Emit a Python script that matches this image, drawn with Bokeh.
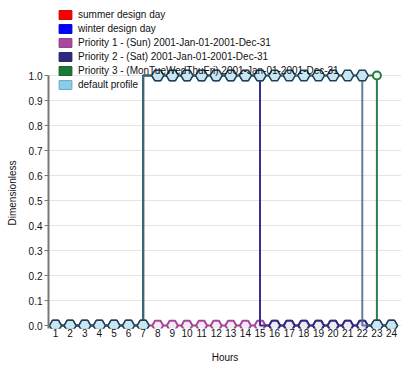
from bokeh.plotting import figure
from bokeh.models import (ColumnDataSource, Range1d, FixedTicker, NumeralTickFormatter,
                          Legend, LegendItem, Title)
from bokeh.embed import file_html
from bokeh.resources import INLINE

# ---- data ----
hours = [1, 2, 3, 4, 5, 6, 7, 8, 9, 10, 11, 12, 13, 14, 15, 16, 17, 18, 19, 20, 21, 22, 23, 24]
summer_design_day = []
winter_design_day = []
priority1_sun = [0, 0, 0, 0, 0, 0, 0, 0, 0, 0, 0, 0, 0, 0, 0, 0, 0, 0, 0, 0, 0, 0, 0, 0]
priority2_sat = [0, 0, 0, 0, 0, 0, 0, 1, 1, 1, 1, 1, 1, 1, 1, 0, 0, 0, 0, 0, 0, 0, 0, 0]
priority3_weekdays = [0, 0, 0, 0, 0, 0, 0, 1, 1, 1, 1, 1, 1, 1, 1, 1, 1, 1, 1, 1, 1, 1, 1, 0]
default_profile = [0, 0, 0, 0, 0, 0, 0, 1, 1, 1, 1, 1, 1, 1, 1, 1, 1, 1, 1, 1, 1, 1, 0, 0]

y_ticks = [0.0, 0.1, 0.2, 0.3, 0.4, 0.5, 0.6, 0.7, 0.8, 0.9, 1.0]

labels = ["summer design day", "winter design day",
          "Priority 1 - (Sun) 2001-Jan-01-2001-Dec-31",
          "Priority 2 - (Sat) 2001-Jan-01-2001-Dec-31",
          "Priority 3 - (MonTueWedThuFri) 2001-Jan-01-2001-Dec-31",
          "default profile"]
swatch_fill = ["#ff0000", "#0000ff", "#a8489f", "#2f2a80", "#197a33", "#87ceeb"]
swatch_line = ["#c00000", "#0000c0", "#8a3a83", "#232063", "#135a27", "#6aa5bd"]

x_title = "Hours"
y_title = "Dimensionless"

FONT = "Liberation Sans"
NAN = float("nan")

p = figure(width=401, height=369, output_backend="svg", toolbar_location=None,
           x_range=Range1d(0.521, 24.684), y_range=Range1d(-0.012, 1.3),
           min_border_left=48, min_border_right=0, min_border_top=0, min_border_bottom=41)
p.outline_line_color = None
p.background_fill_color = "white"

src_sun = ColumnDataSource(dict(x=hours, y=priority1_sun))
src_sat = ColumnDataSource(dict(x=hours, y=priority2_sat))
src_wk = ColumnDataSource(dict(x=hours, y=priority3_weekdays))
src_def = ColumnDataSource(dict(x=hours, y=default_profile))

p.step("x", "y", source=src_sun, mode="before", line_color="#9d4596", line_width=2)
p.scatter("x", "y", source=src_sun, marker="hex", size=11, fill_color="#f4eaf3",
          line_color="#a3479c", line_width=2)

p.step("x", "y", source=src_sat, mode="before", line_color="#37318a", line_width=2)
p.scatter("x", "y", source=src_sat, marker="hex", size=11, fill_color="#eceaf4",
          line_color="#2f2a78", line_width=2)

p.step("x", "y", source=src_wk, mode="before", line_color="#2f7d4a", line_width=2)
p.scatter("x", "y", source=src_wk, marker="circle", size=8, fill_color="#f2f8f3",
          line_color="#2a7a40", line_width=2)

p.step("x", "y", source=src_def, mode="before", line_color="#3c5f85", line_width=2,
       line_alpha=0.8)
p.scatter("x", "y", source=src_def, marker="hex", size=12, fill_color="#c8e7f3",
          line_color="#1f3f56", line_width=1.5)

# legend-only swatches (no visible data)
items = []
for lab, fc, lc in zip(labels, swatch_fill, swatch_line):
    r = p.quad(left=[NAN], right=[NAN], top=[NAN], bottom=[NAN],
               fill_color=fc, line_color=lc, line_width=1)
    items.append(LegendItem(label=lab, renderers=[r]))

legend = Legend(items=items, location=(9, 238), orientation="vertical",
                glyph_width=16, glyph_height=11, label_height=11, spacing=3,
                label_standoff=5, padding=0, margin=0,
                border_line_color=None, background_fill_alpha=0,
                label_text_font=FONT, label_text_font_size="10px",
                label_text_color="#111111")
p.add_layout(legend, "center")

# axes
p.xaxis.ticker = FixedTicker(ticks=hours)
p.xaxis.axis_line_color = None
p.xaxis.major_tick_line_color = None
p.xaxis.major_tick_out = 0
p.xaxis.major_tick_in = 0
p.xaxis.minor_tick_line_color = None
p.xaxis.major_label_standoff = 0
p.xaxis.major_label_text_font = FONT
p.xaxis.major_label_text_font_size = "10px"
p.xaxis.major_label_text_color = "#111111"
p.xaxis.axis_label = x_title
p.xaxis.axis_label_text_font = FONT
p.xaxis.axis_label_text_font_size = "10px"
p.xaxis.axis_label_text_font_style = "normal"
p.xaxis.axis_label_text_color = "#111111"
p.xaxis.axis_label_standoff = 12

p.yaxis.ticker = FixedTicker(ticks=y_ticks)
p.yaxis.bounds = (-0.012, 1.0)
p.yaxis.formatter = NumeralTickFormatter(format="0.0")
p.yaxis.axis_line_color = "#777777"
p.yaxis.axis_line_width = 2
p.yaxis.major_tick_line_color = "#777777"
p.yaxis.major_tick_out = 4
p.yaxis.major_tick_in = 0
p.yaxis.minor_tick_line_color = None
p.yaxis.major_label_standoff = 2
p.yaxis.major_label_text_font = FONT
p.yaxis.major_label_text_font_size = "10px"
p.yaxis.major_label_text_color = "#111111"

# y axis title as a side title, aligned from the bottom of the frame
ytitle = Title(text=y_title, align="left", vertical_align="top", offset=103, standoff=12,
               text_font=FONT, text_font_size="10px", text_font_style="normal",
               text_color="#111111")
p.add_layout(ytitle, "left")

p.xgrid.grid_line_color = None
p.ygrid.grid_line_color = "#e5e5e5"
p.ygrid.grid_line_width = 1

open("out.html", "w").write(file_html(p, INLINE))
